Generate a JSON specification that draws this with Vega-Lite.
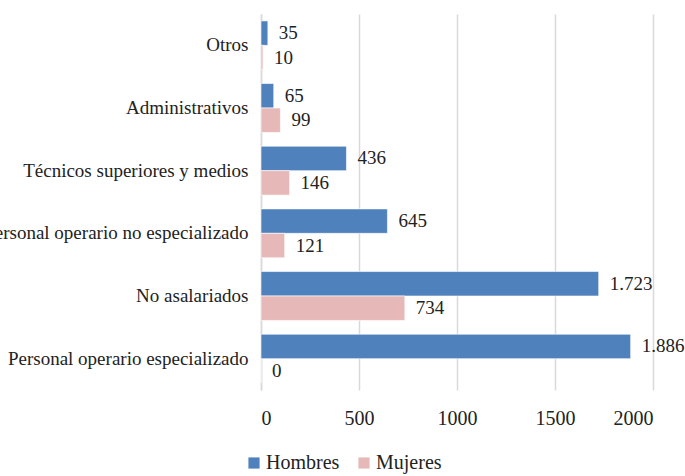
{
  "$schema": "https://vega.github.io/schema/vega-lite/v6.json",
  "width": 392,
  "height": 376,
  "autosize": "none",
  "padding": {"left": 261, "top": 14, "right": 32, "bottom": 86},
  "background": "white",
  "config": {
    "view": {"stroke": null},
    "font": "Liberation Serif",
    "legend": {"labelFont": "Liberation Serif", "titleFont": "Liberation Serif"},
    "locale": {"number": {"decimal": ",", "thousands": ".", "grouping": [3], "currency": ["", " €"]}}
  },
  "data": {
    "values": [
      {"categoria": "Otros", "sexo": "Hombres", "valor": 35},
      {"categoria": "Otros", "sexo": "Mujeres", "valor": 10},
      {"categoria": "Administrativos", "sexo": "Hombres", "valor": 65},
      {"categoria": "Administrativos", "sexo": "Mujeres", "valor": 99},
      {"categoria": "Técnicos superiores y medios", "sexo": "Hombres", "valor": 436},
      {"categoria": "Técnicos superiores y medios", "sexo": "Mujeres", "valor": 146},
      {"categoria": "Personal operario no especializado", "sexo": "Hombres", "valor": 645},
      {"categoria": "Personal operario no especializado", "sexo": "Mujeres", "valor": 121},
      {"categoria": "No asalariados", "sexo": "Hombres", "valor": 1723},
      {"categoria": "No asalariados", "sexo": "Mujeres", "valor": 734},
      {"categoria": "Personal operario especializado", "sexo": "Hombres", "valor": 1886},
      {"categoria": "Personal operario especializado", "sexo": "Mujeres", "valor": 0}
    ]
  },
  "encoding": {
    "y": {
      "field": "categoria",
      "type": "nominal",
      "sort": null,
      "scale": {"paddingInner": 0.22, "paddingOuter": 0.11},
      "axis": {
        "title": null,
        "labelFont": "Liberation Serif",
        "labelFontSize": 19,
        "labelColor": "#222222",
        "labelLimit": 0,
        "labelPadding": 13,
        "ticks": false,
        "domainColor": "#D9D9D9",
        "domainWidth": 1.5
      }
    },
    "yOffset": {"field": "sexo", "type": "nominal", "sort": ["Hombres", "Mujeres"]},
    "x": {
      "field": "valor",
      "type": "quantitative",
      "scale": {"domain": [0, 2000], "nice": false},
      "axis": {
        "title": null,
        "values": [0, 500, 1000, 1500, 2000],
        "format": "d",
        "labelFont": "Liberation Serif",
        "labelFontSize": 20,
        "labelColor": "#222222",
        "labelPadding": 18,
        "ticks": false,
        "domain": false,
        "gridColor": "#D9D9D9",
        "gridWidth": 1.5
      }
    }
  },
  "layer": [
    {
      "mark": {"type": "bar", "stroke": "white", "strokeWidth": 0.6},
      "encoding": {
        "color": {
          "field": "sexo",
          "type": "nominal",
          "sort": ["Hombres", "Mujeres"],
          "scale": {"domain": ["Hombres", "Mujeres"], "range": ["#4F81BD", "#E6B9B8"]},
          "legend": {
            "title": null,
            "orient": "none",
            "direction": "horizontal",
            "legendX": -17,
            "legendY": 439,
            "symbolType": "square",
            "symbolSize": 125,
            "symbolStrokeWidth": 0,
            "labelFont": "Liberation Serif",
            "labelFontSize": 20,
            "labelColor": "#222222",
            "labelOffset": 2,
            "columnPadding": 14
          }
        }
      }
    },
    {
      "mark": {"type": "text", "align": "left", "dx": 11, "fontSize": 19, "font": "Liberation Serif", "color": "#222222"},
      "encoding": {
        "text": {"field": "valor", "type": "quantitative", "format": ",d"}
      }
    }
  ]
}
